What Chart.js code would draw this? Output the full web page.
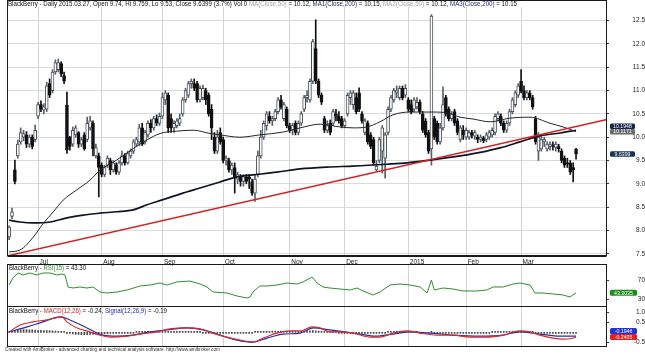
<!DOCTYPE html>
<html>
<head>
<meta charset="utf-8">
<script src="https://cdn.jsdelivr.net/npm/chart.js@4.4.1/dist/chart.umd.min.js"></script>
<style>
html,body{margin:0;padding:0;background:#fff;overflow:hidden;}
#wrap{position:relative;width:645px;height:353px;background:#fff;}
canvas{position:absolute;left:0;display:block;}
</style>
</head>
<body>
<div id="wrap">
<canvas id="cMain" width="645" height="266" style="top:0px"></canvas>
<canvas id="cRsi" width="645" height="43" style="top:264px"></canvas>
<canvas id="cMacd" width="645" height="47" style="top:306px"></canvas>
</div>
<script>
const FONT = '"Liberation Sans", Arial, sans-serif';

// ---- categories / ticks ----
const monthLabels = ['Jul','Aug','Sep','Oct','Nov','Dec','2015','Feb','Mar'];
const monthStarts = [10,32,53,74,97,116,138,158,177];
const priceTicks = [7.5,8.0,8.5,9.0,9.5,10.0,10.5,11.0,11.5,12.0,12.5];
const rsiTicks = [30,70];
const macdTicks = [-0.5,0.5,1.0];

// ---- daily OHLC (bar index 0 = 2014-06-17) ----
const openP = [7.86,8.30,9.30,9.60,9.90,10.00,10.05,9.85,10.00,9.95,
10.45,10.70,10.58,10.60,11.15,11.00,11.40,11.45,11.58,11.32,
10.69,10.00,9.85,10.05,10.10,9.85,10.05,9.95,10.20,10.30,
9.60,9.60,9.40,9.20,9.40,9.50,9.30,9.40,9.25,9.45,
9.60,9.45,9.60,9.70,9.85,9.90,10.20,9.90,10.05,10.30,
10.20,10.40,10.30,10.45,10.80,10.90,10.40,10.20,10.25,10.30,
10.50,10.80,10.90,11.15,11.15,11.15,10.80,10.85,11.00,10.90,
10.60,10.00,9.70,10.10,9.95,9.50,9.50,9.30,9.35,9.10,
9.15,9.05,9.15,9.15,9.05,8.80,9.20,9.60,10.00,10.25,
10.45,10.35,10.40,10.55,10.80,10.40,10.60,10.25,10.15,10.30,
10.10,10.30,10.60,10.85,10.80,11.20,11.90,11.20,10.90,10.40,
10.15,10.30,10.30,10.50,10.45,10.40,10.25,10.50,10.85,10.70,
10.85,10.95,10.50,10.10,10.30,10.05,9.95,9.30,9.50,9.70,
9.55,10.10,10.60,10.80,10.95,10.85,11.05,10.90,10.80,10.70,
10.60,10.65,10.75,10.50,10.35,10.10,9.75,10.40,10.30,9.90,
10.20,10.85,10.60,10.40,10.55,10.35,9.95,10.15,10.00,10.00,
10.10,10.02,10.00,9.95,9.98,9.95,10.00,10.05,10.10,10.40,
10.45,10.30,10.15,10.30,10.55,10.70,10.90,11.20,11.00,10.85,
10.95,10.85,10.40,9.70,9.75,9.90,9.75,9.80,9.82,9.78,
9.80,9.70,9.55,9.45,9.45,9.35,9.74];
const highP = [8.10,8.48,9.51,9.94,10.20,10.15,10.12,10.05,10.05,10.26,
10.75,10.78,10.72,11.18,11.25,11.45,11.66,11.68,11.62,11.40,
10.97,10.02,10.22,10.25,10.12,10.00,10.10,10.43,10.45,10.35,
9.85,9.66,9.45,9.40,9.60,9.55,9.50,9.45,9.50,9.70,
9.65,9.70,9.75,9.95,10.00,10.28,10.30,10.15,10.35,10.38,
10.45,10.48,10.52,10.95,11.00,10.95,10.50,10.35,10.40,10.50,
10.85,11.05,11.20,11.25,11.25,11.20,11.10,11.12,11.05,10.95,
10.70,10.10,10.15,10.20,10.00,9.60,9.55,9.45,9.45,9.25,
9.20,9.20,9.20,9.20,9.10,9.20,9.70,10.15,10.35,10.55,
10.55,10.45,10.60,10.85,10.90,10.75,10.65,10.30,10.30,10.35,
10.35,10.55,10.90,11.00,11.25,12.10,12.52,11.25,10.95,10.45,
10.35,10.37,10.60,10.60,10.55,10.45,10.40,10.95,11.00,11.00,
10.95,11.06,10.55,10.40,10.35,10.10,10.00,9.50,10.00,10.25,
10.10,10.65,10.90,11.05,11.10,11.10,11.10,11.13,10.85,10.80,
10.85,10.85,10.80,10.55,10.40,10.15,12.63,10.45,10.35,10.30,
11.08,10.90,10.65,10.55,10.60,10.40,10.25,10.25,10.20,10.15,
10.15,10.15,10.05,10.05,10.02,10.10,10.15,10.20,10.50,10.55,
10.50,10.35,10.35,10.60,10.85,11.00,11.15,11.45,11.10,11.00,
11.00,10.90,10.45,10.10,10.05,10.00,9.90,9.90,9.90,9.90,
9.85,9.75,9.60,9.55,9.50,9.45,9.759];
const lowP = [7.80,8.25,9.00,9.55,9.85,9.92,9.78,9.78,9.75,9.90,
10.40,10.55,10.50,10.55,10.85,10.95,11.35,11.40,11.30,11.15,
9.65,9.72,9.80,10.00,9.78,9.80,9.72,9.90,10.15,9.60,
9.55,8.72,9.15,9.15,9.35,9.20,9.25,9.20,9.20,9.40,
9.40,9.42,9.55,9.65,9.80,9.82,9.82,9.85,10.00,10.10,
10.15,10.25,10.25,10.40,10.70,10.10,10.10,10.10,10.20,10.25,
10.45,10.75,10.85,11.05,11.00,10.75,10.75,10.80,10.70,10.45,
9.95,9.65,9.65,9.85,9.45,9.40,9.25,9.20,8.80,9.00,
8.95,8.95,9.00,8.90,8.75,8.62,9.15,9.55,9.95,10.15,
10.30,10.25,10.35,10.50,10.60,10.35,10.20,10.10,10.05,10.05,
10.05,10.25,10.55,10.75,10.75,11.15,11.15,10.85,10.70,10.10,
10.10,10.05,10.25,10.35,10.30,10.20,10.20,10.45,10.70,10.60,
10.50,10.55,10.30,10.05,9.85,9.75,9.40,9.28,9.45,9.23,
9.12,10.05,10.55,10.75,10.85,10.80,10.80,10.85,10.55,10.50,
10.55,10.60,10.50,10.10,10.00,9.65,9.40,9.95,9.85,9.85,
10.15,10.45,10.35,10.35,10.25,10.05,9.90,9.95,9.95,9.95,
9.98,9.95,9.88,9.90,9.88,9.90,9.95,10.00,10.05,10.35,
10.25,10.10,10.10,10.25,10.50,10.65,10.85,10.95,10.80,10.80,
10.80,10.60,9.85,9.50,9.70,9.80,9.70,9.72,9.72,9.70,
9.68,9.45,9.35,9.35,9.20,9.04,9.53];
const closeP = [8.07,8.40,9.05,9.85,10.10,10.08,9.85,10.00,9.80,10.15,
10.70,10.60,10.65,11.10,10.90,11.40,11.60,11.60,11.35,11.20,
9.73,9.80,10.15,10.20,9.85,9.95,9.75,10.30,10.35,9.75,
9.78,9.35,9.20,9.35,9.55,9.30,9.45,9.25,9.45,9.60,
9.45,9.65,9.70,9.90,9.95,10.20,9.85,10.10,10.30,10.20,
10.40,10.30,10.45,10.85,10.95,10.20,10.20,10.30,10.35,10.40,
10.80,11.00,11.15,11.20,11.05,10.80,11.05,11.05,10.80,10.50,
10.20,9.70,10.00,9.90,9.50,9.55,9.30,9.40,9.15,9.20,
9.05,9.15,9.05,9.10,8.80,9.10,9.60,10.00,10.30,10.50,
10.35,10.40,10.55,10.80,10.65,10.70,10.25,10.15,10.25,10.10,
10.30,10.50,10.85,10.90,11.20,12.05,11.20,10.90,10.75,10.15,
10.25,10.10,10.55,10.45,10.35,10.25,10.35,10.90,10.95,10.95,
10.55,10.60,10.35,10.35,9.90,9.80,9.45,9.38,9.95,10.20,
10.05,10.60,10.85,11.00,11.00,11.05,10.85,11.05,10.60,10.55,
10.80,10.75,10.55,10.15,10.05,9.70,12.60,10.00,9.90,10.20,
10.70,10.50,10.40,10.50,10.30,10.10,10.20,10.05,10.15,10.10,
10.05,10.10,9.95,10.00,9.92,10.05,10.10,10.15,10.45,10.50,
10.30,10.15,10.30,10.55,10.80,10.95,11.10,10.98,10.85,10.95,
10.85,10.65,9.90,10.00,9.95,9.95,9.85,9.85,9.80,9.85,
9.75,9.50,9.40,9.42,9.25,9.30,9.6399];

// ---- moving averages (read at sample bars) ----
const ma50Idx = [0,3.8,8.4,11.8,15.3,18.7,23.4,28,31.4,37.2,43,47.6,52.2,57.9,63.7,69.5,72.9,79.8,86.7,94.7,100.6,107.5,114.4,119,123.7,128.2,132.7,138.6,146.6,151.4,155.9,160.4,166.3,173.2,180.1,187,191.5,196];
const ma50Val = [7.54,7.58,7.86,8.15,8.40,8.65,8.87,9.08,9.29,9.51,9.76,9.94,10.08,10.13,10.15,10.08,10.05,10.00,10.05,10.11,10.20,10.28,10.22,10.20,10.22,10.33,10.48,10.54,10.54,10.52,10.43,10.39,10.33,10.41,10.43,10.30,10.22,10.12];
const ma200Idx = [0,3.8,8.3,14.1,20,25.6,31.4,37.3,42.8,47.7,53.2,60.1,66,72.9,78.8,84.3,92.6,100.6,109.9,119,130.6,137.6,145.5,158.3,169.7,176.6,183.5,190.5,196];
const ma200Val = [8.22,8.18,8.16,8.18,8.27,8.33,8.37,8.40,8.44,8.55,8.66,8.80,8.91,9.04,9.15,9.19,9.25,9.32,9.36,9.38,9.42,9.45,9.51,9.62,9.77,9.90,10.03,10.09,10.15];
const trendIdx = [-0.73,206.7];
const trendVal = [7.45,10.38];

// ---- RSI(15) ----
const rsiIdx = [0,1.3,3.1,4.8,7.2,9.6,11.7,14.1,16.6,18.3,19.3,20.4,22.1,24.5,26.9,29,31.4,33.8,37.3,40.8,45.3,48.7,52.2,54.6,58,62.5,66,68.4,70.5,75.3,78.8,82.2,83.3,84.3,86.7,89.2,92.6,96.1,99.5,101.6,104.7,106.5,108.5,110.9,114.4,117.9,120.3,122.4,125.8,128.2,131.7,135.1,138.6,142.1,144.5,146,147,150,153.5,156.9,161.8,165.2,167.3,170.8,174.2,176.6,180.1,181.8,184.6,188,191.5,193.9,196];
const rsiVal = [59.6,74.1,84.5,80.4,84.5,80.4,84.5,84.5,80.4,82.4,80.4,55.5,53.4,55.5,53.4,55.5,45.1,43.1,45.1,49.3,57.6,59.6,63.8,59.6,65.9,67.9,61.7,55.5,45.1,43.1,36.8,32.7,34.8,45.1,57.6,57.6,59.6,63.8,61.7,65.9,76.2,63.8,55.5,53.4,51.3,49.3,53.4,47.2,38.9,45.1,59.6,61.7,59.6,55.5,43.1,70.0,49.3,53.4,51.3,47.2,47.2,49.3,55.5,55.5,61.7,63.8,59.6,43.1,43.1,41.0,38.9,34.8,43.3];

// ---- MACD(12,26), Signal(12,26,9), histogram ----
const macdIdx = [0,3.8,8.3,13.1,18.3,20,23.5,28,31.4,34.9,40.8,45.3,51.1,55.6,61.5,66,70.5,75.3,79.8,84.3,87.8,92.6,97.1,100.6,104.7,107.5,110.9,113.4,119,124.8,128.2,132.7,137.6,142.1,147.9,153.5,159.3,165.2,170.8,176.6,180.1,183.5,188,191.5,194,196];
const macdVal = [0.02,0.37,0.52,0.62,0.77,0.52,0.22,0.02,-0.14,-0.24,-0.19,-0.09,0.02,0.17,0.22,0.17,-0.04,-0.24,-0.39,-0.49,-0.29,-0.04,0.07,0.07,0.27,0.22,0.02,0.02,-0.04,-0.24,-0.24,-0.04,0.07,-0.04,-0.14,-0.14,-0.24,-0.24,-0.14,0.07,0.02,-0.14,-0.29,-0.34,-0.32,-0.24];
const sigIdx = [0,6.2,11.7,17.6,21,26.9,32.5,37.3,42.8,48.7,54.6,61.5,67.1,72.9,78.8,84.3,89.2,94.7,100.6,105.1,110.9,116.1,121.3,126.5,132.7,138.6,145.5,153.5,162.8,170.8,176.6,183.5,190.5,196];
const sigVal = [0.02,0.27,0.52,0.77,0.62,0.22,-0.14,-0.19,-0.14,0.02,0.12,0.22,0.12,-0.14,-0.39,-0.49,-0.29,-0.09,-0.04,0.22,0.12,0.02,-0.09,-0.19,-0.09,0.02,-0.04,-0.14,-0.19,-0.14,0.02,-0.09,-0.19,-0.19];
const histVal = [0.04,0.06,0.08,0.10,0.12,0.13,0.13,0.12,0.12,0.11,
0.10,0.10,0.09,0.08,0.08,0.07,0.06,0.05,0.03,0.01,
-0.03,-0.06,-0.08,-0.10,-0.11,-0.12,-0.12,-0.12,-0.11,-0.10,
-0.09,-0.08,-0.08,-0.07,-0.07,-0.06,-0.05,-0.04,-0.03,-0.03,
-0.02,-0.02,-0.01,-0.01,0.01,0.01,0.02,0.02,0.02,0.02,
0.02,0.03,0.03,0.03,0.03,0.02,0.02,0.02,0.02,0.02,
0.02,0.01,0.01,0.01,0.01,0.01,0.01,-0.01,-0.02,-0.03,
-0.04,-0.05,-0.05,-0.05,-0.05,-0.04,-0.04,-0.03,-0.03,-0.02,
-0.02,-0.02,-0.02,-0.01,-0.01,0.01,0.02,0.03,0.04,0.05,
0.05,0.06,0.06,0.06,0.06,0.05,0.05,0.05,0.05,0.05,
0.05,0.05,0.06,0.07,0.07,0.08,0.07,0.06,0.04,0.03,
0.02,0.01,0.01,0.01,-0.01,-0.01,-0.02,-0.02,-0.02,-0.02,
-0.02,-0.03,-0.03,-0.03,-0.04,-0.04,-0.04,-0.04,-0.03,-0.02,
-0.01,0.01,0.02,0.03,0.03,0.03,0.03,0.03,0.02,0.02,
0.01,0.01,-0.01,-0.01,-0.02,-0.02,0.02,-0.01,-0.02,-0.02,
-0.01,-0.01,-0.01,-0.01,-0.02,-0.02,-0.02,-0.02,-0.02,-0.02,
-0.02,-0.02,-0.02,-0.02,-0.01,-0.01,-0.01,0.01,0.01,0.02,
0.02,0.02,0.03,0.03,0.03,0.04,0.04,0.04,0.03,0.02,
0.01,0.01,-0.01,-0.02,-0.03,-0.03,-0.03,-0.04,-0.04,-0.04,
-0.04,-0.04,-0.05,-0.05,-0.05,-0.05,-0.05];

// ---- last-value labels ----
const priceBoxVals = [10.1948,10.1171,9.6399];
const priceBoxCols = ['#13234d','#6b6b6b','#1b3257'];
const rsiBoxVals = [43.3035];
const macdBoxVals = [-0.1946,-0.2405];

// ---- texts ----
const mainTitleParts = [
  ['BlackBerry - Daily 2015.03.27, Open 9.74, Hi 9.759, Lo 9.53, Close 9.6399 (3.7%) Vol 0 ','#111'],
  ['MA(Close,50)','#a3a3a3'],[' = 10.12, ','#111'],
  ['MA1(Close,200)','#1b2654'],[' = 10.15, ','#111'],
  ['MA2(Close,50)','#a3a3a3'],[' = 10.12, ','#111'],
  ['MA3(Close,200)','#1b2a7a'],[' = 10.15','#111']];
const rsiTitleParts = [['BlackBerry - ','#111'],['RSI(15)','#2e8b2e'],[' = 43.30','#111']];
const macdTitleParts = [['BlackBerry - ','#111'],['MACD(12,26)','#d02020'],[' = -0.24, ','#111'],['Signal(12,26,9)','#2424c0'],[' = -0.19','#111']];
const footerParts = [['Created with AmiBroker - advanced charting and technical analysis software. http://www.amibroker.com','#333']];

// ================= drawing =================
const xMin = -0.73, xMax = 206.7;
const pts = (idx, vals) => idx.map((x, k) => ({x, y: vals[k]}));

const framePlugin = {
  id: 'frame',
  afterDatasetsDraw(chart, args, opts) {
    const {ctx, chartArea: a} = chart;
    const l = Math.round(a.left) + 0.5, t = Math.round(a.top) + 0.5;
    const r = Math.round(a.right) - 0.5, b = Math.round(a.bottom) - 0.5;
    ctx.save();
    ctx.strokeStyle = '#1a1a1a';
    ctx.lineWidth = 1;
    ctx.strokeRect(l, t, r - l, b - t);
    if (opts.extraBottom) {
      ctx.beginPath(); ctx.moveTo(l, b + 1); ctx.lineTo(r, b + 1); ctx.stroke();
    }
    ctx.restore();
  }
};
const stripPlugin = {
  id: 'strip',
  beforeDatasetsDraw(chart, args, opts) {
    if (!opts.h) return;
    const {ctx, chartArea: a} = chart;
    ctx.save();
    ctx.fillStyle = '#fff';
    ctx.fillRect(a.left + 1, a.top + 1, a.right - a.left - 2, opts.h);
    ctx.restore();
  }
};
const segTitlePlugin = {
  id: 'segTitle',
  afterDraw(chart, args, opts) {
    if (!opts.items) return;
    const ctx = chart.ctx;
    opts.items.forEach(t => {
      ctx.save();
      ctx.font = t.size + 'px ' + FONT;
      ctx.textBaseline = 'middle';
      ctx.textAlign = 'left';
      const full = t.parts.map(p => p[0]).join('');
      const s = t.width / ctx.measureText(full).width;
      ctx.translate(t.x, t.y);
      ctx.scale(s, 1);
      let x = 0;
      t.parts.forEach(p => {
        ctx.fillStyle = p[1];
        ctx.fillText(p[0], x, 0);
        x += ctx.measureText(p[0]).width;
      });
      ctx.restore();
    });
  }
};
const boxPlugin = {
  id: 'valueBoxes',
  afterDraw(chart, args, opts) {
    if (!opts.items) return;
    const {ctx, chartArea: a} = chart;
    const ys = chart.scales.y;
    const h = opts.h, w = opts.w;
    const items = opts.items.map(it => Object.assign({}, it, {cy: ys.getPixelForValue(it.v)}));
    items.sort((p, q) => p.cy - q.cy);
    for (let k = items.length - 2; k >= 0; k--) {
      if (items[k + 1].cy - items[k].cy < h) items[k].cy = items[k + 1].cy - h;
    }
    ctx.save();
    items.forEach(it => {
      const x0 = a.right + 3, y0 = it.cy - h / 2;
      ctx.fillStyle = it.c;
      ctx.beginPath();
      if (ctx.roundRect) ctx.roundRect(x0, y0, w, h, 1.5); else ctx.rect(x0, y0, w, h);
      ctx.fill();
      ctx.fillStyle = '#fff';
      ctx.font = opts.fs + 'px ' + FONT;
      ctx.textAlign = 'center';
      ctx.textBaseline = 'middle';
      ctx.fillText(it.t, x0 + w / 2, it.cy + 0.3);
    });
    ctx.restore();
  }
};
const plugins = [stripPlugin, framePlugin, segTitlePlugin, boxPlugin];

function xScale(showLabels, h) {
  return {
    type: 'linear', min: xMin, max: xMax, offset: false,
    afterBuildTicks: s => { s.ticks = monthStarts.map(v => ({value: v})); },
    afterFit: s => { s.height = h; s.paddingLeft = 0; s.paddingRight = 0; },
    grid: {offset: false, color: '#d3d3d3', lineWidth: 1, drawTicks: false},
    border: {display: false},
    ticks: {display: showLabels, autoSkip: false, maxRotation: 0, minRotation: 0, align: 'start',
      padding: 2, labelOffset: 1.5, color: '#222', font: {family: FONT, size: 6.5},
      callback: (v, i) => monthLabels[i]}
  };
}
function yScale(min, max, tickVals, fmt, pad, hGrid) {
  return {
    type: 'linear', position: 'right', min, max,
    afterBuildTicks: s => { s.ticks = tickVals.map(v => ({value: v})); },
    afterFit: s => { s.width = 38; s.paddingTop = 0; s.paddingBottom = 0; },
    grid: {display: true, color: hGrid ? '#dadada' : 'rgba(0,0,0,0)', drawTicks: true, tickLength: 2, tickColor: '#333'},
    border: {display: false},
    ticks: {autoSkip: false, crossAlign: 'far', padding: pad, color: '#222',
      font: {family: FONT, size: 6.5}, callback: v => fmt(v)}
  };
}
const common = {responsive: false, animation: false, devicePixelRatio: 1, events: []};

// ---- main price panel ----
const isUp = closeP.map((c, k) => c >= openP[k]);
const bodyData = openP.map((o, k) => ({x: k, y: [Math.min(o, closeP[k]), Math.max(o, closeP[k])]}));
const wickData = highP.map((hv, k) => ({x: k, y: [lowP[k], hv]}));

new Chart(document.getElementById('cMain'), {
  type: 'bar',
  data: {datasets: [
    {type: 'line', data: pts(trendIdx, trendVal), borderColor: '#d42020', borderWidth: 1.4, pointRadius: 0, order: 0},
    {type: 'line', data: pts(ma50Idx, ma50Val), borderColor: '#262626', borderWidth: 1, pointRadius: 0, cubicInterpolationMode: 'monotone', order: 0},
    {type: 'line', data: pts(ma200Idx, ma200Val), borderColor: '#0f1426', borderWidth: 1.7, pointRadius: 0, cubicInterpolationMode: 'monotone', order: 0},
    {type: 'bar', data: bodyData, backgroundColor: isUp.map(u => u ? '#ffffff' : '#111111'),
      borderColor: isUp.map(u => u ? '#46515b' : '#111111'), borderWidth: 1, borderSkipped: false,
      barThickness: 3, minBarLength: 1, grouped: false, order: 1},
    {type: 'bar', data: wickData, backgroundColor: isUp.map(u => u ? '#56616b' : '#111111'), borderWidth: 0,
      barThickness: 1, grouped: false, order: 2}
  ]},
  options: Object.assign({}, common, {
    layout: {padding: {left: 7, right: 0, top: 0, bottom: 0}},
    plugins: {legend: {display: false}, tooltip: {enabled: false},
      strip: {h: 6}, frame: {extraBottom: true},
      segTitle: {items: [{x: 8, y: 4.5, width: 509, size: 7, parts: mainTitleParts}]},
      valueBoxes: {w: 25, h: 5.5, fs: 5.2, items: priceBoxVals.map((v, k) => ({v, t: String(v), c: priceBoxCols[k]}))}},
    scales: {x: xScale(true, 10), y: yScale(7.451, 12.944, priceTicks, v => v.toFixed(1), 12.4, true)}
  }),
  plugins
});

// ---- RSI panel ----
new Chart(document.getElementById('cRsi'), {
  type: 'line',
  data: {datasets: [
    {data: pts(rsiIdx, rsiVal), borderColor: '#2f8f2f', borderWidth: 1, pointRadius: 0, tension: 0}
  ]},
  options: Object.assign({}, common, {
    layout: {padding: {left: 7, right: 0, top: 0, bottom: 0}},
    plugins: {legend: {display: false}, tooltip: {enabled: false},
      frame: {}, strip: {},
      segTitle: {items: [{x: 9, y: 4, width: 77, size: 7, parts: rsiTitleParts}]},
      valueBoxes: {w: 27, h: 6, fs: 5.2, items: rsiBoxVals.map(v => ({v, t: String(v), c: '#1f8c1f'}))}},
    scales: {x: xScale(false, 0), y: yScale(14.0, 103.2, rsiTicks, v => String(v), 5.8, false)}
  }),
  plugins
});

// ---- MACD panel ----
new Chart(document.getElementById('cMacd'), {
  type: 'bar',
  data: {datasets: [
    {type: 'line', data: pts(macdIdx, macdVal), borderColor: '#d42a2a', borderWidth: 1.1, pointRadius: 0, cubicInterpolationMode: 'monotone', order: 0},
    {type: 'line', data: pts(sigIdx, sigVal), borderColor: '#2a2aa8', borderWidth: 1.1, pointRadius: 0, cubicInterpolationMode: 'monotone', order: 0},
    {type: 'bar', data: histVal.map((hv, k) => ({x: k, y: hv})), backgroundColor: '#4a4a4a', borderWidth: 0,
      barThickness: 1, minBarLength: 1, grouped: false, order: 1}
  ]},
  options: Object.assign({}, common, {
    layout: {padding: {left: 7, right: 0, top: 0, bottom: 6.5}},
    plugins: {legend: {display: false}, tooltip: {enabled: false},
      frame: {}, strip: {},
      segTitle: {items: [
        {x: 9, y: 5.5, width: 158, size: 7, parts: macdTitleParts},
        {x: 5, y: 43.5, width: 215, size: 5, parts: footerParts}]},
      valueBoxes: {w: 27, h: 6, fs: 5.2, items: [
        {v: macdBoxVals[0], t: String(macdBoxVals[0]), c: '#2432d0'},
        {v: macdBoxVals[1], t: String(macdBoxVals[1]), c: '#de2020'}]}},
    scales: {x: xScale(false, 0), y: yScale(-0.71, 1.315, macdTicks, v => v.toFixed(1), 1.8, false)}
  }),
  plugins
});
</script>
</body>
</html>
